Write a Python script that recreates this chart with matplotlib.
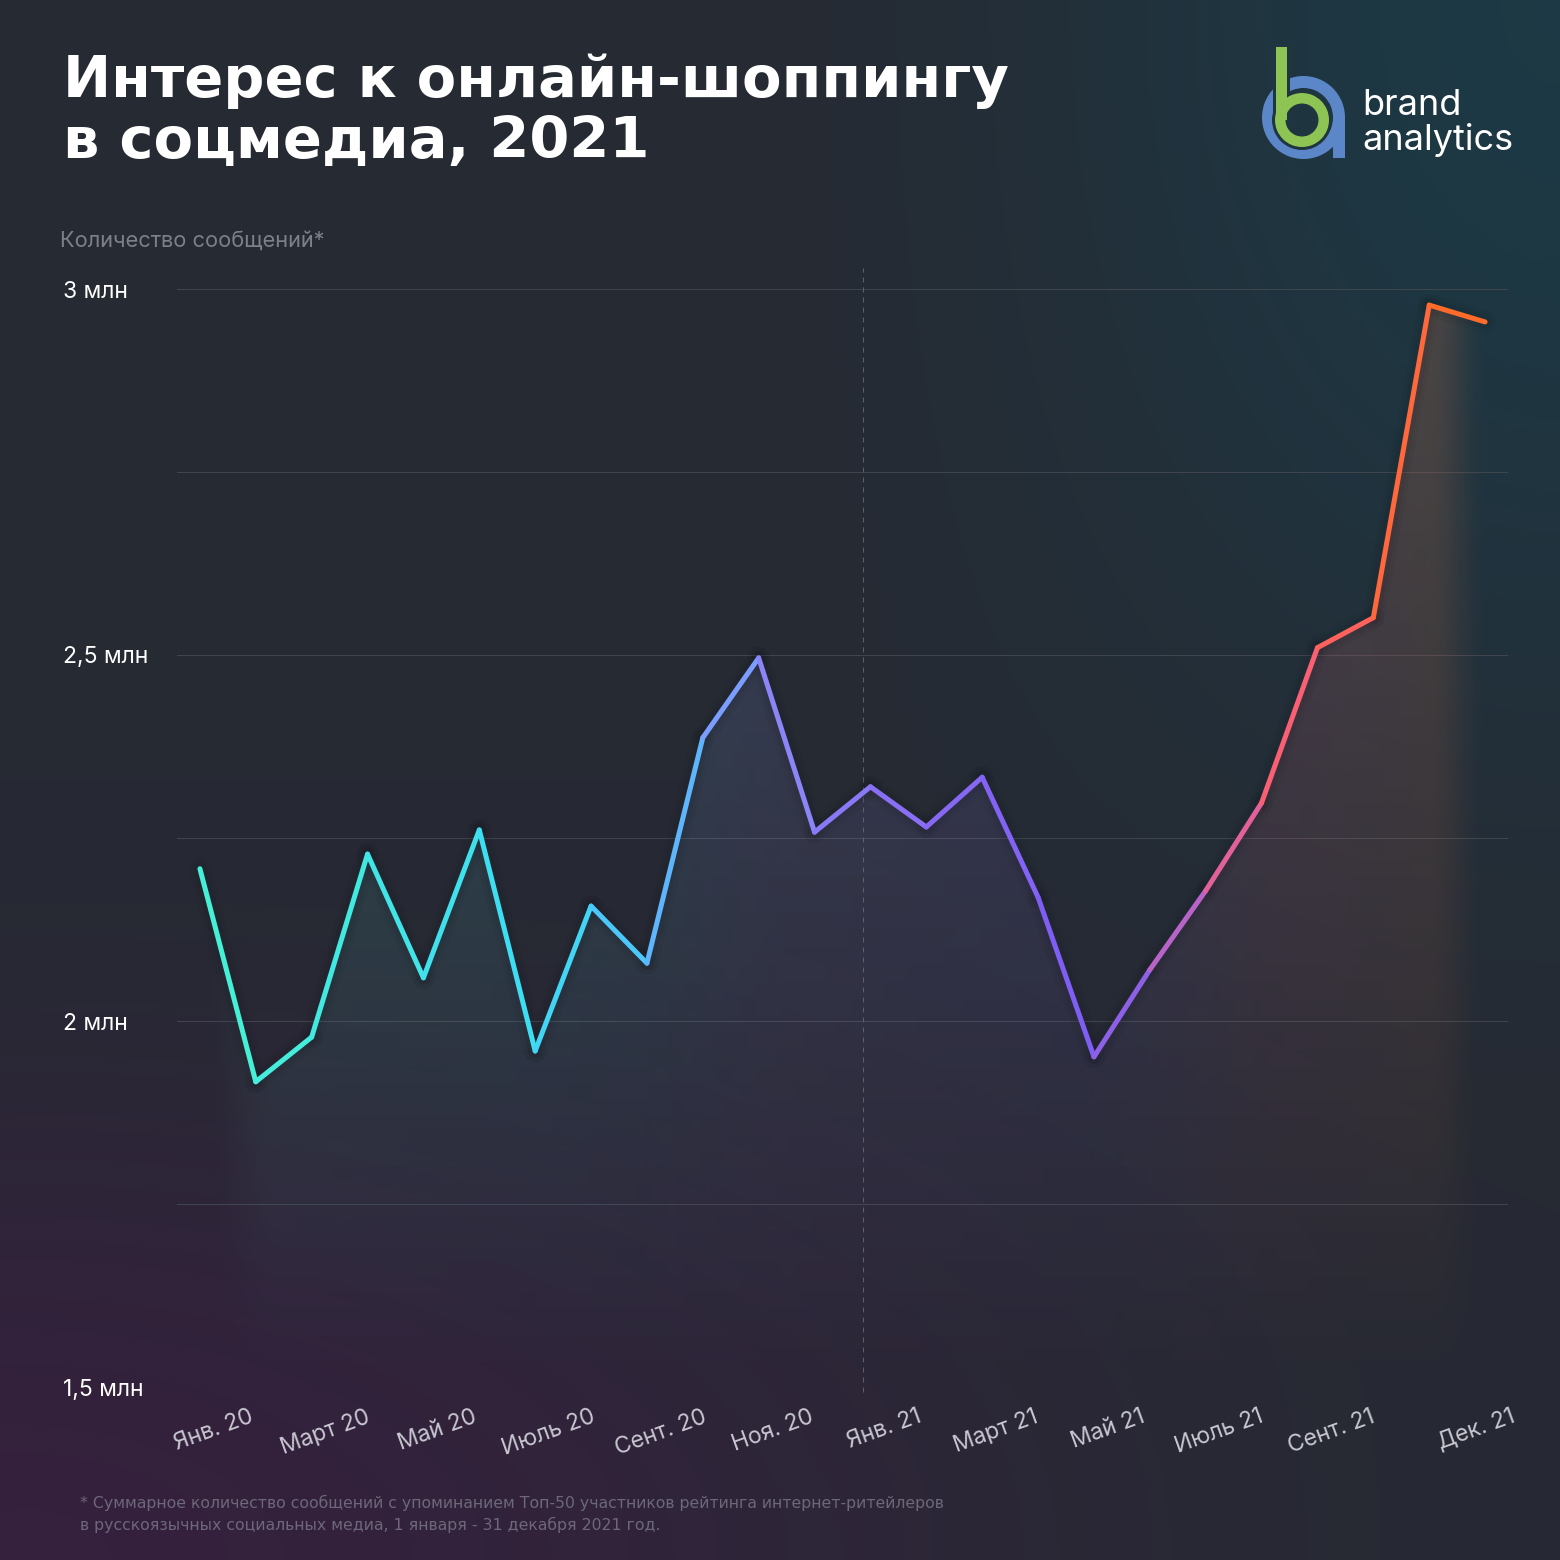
import numpy as np
import matplotlib
matplotlib.use("Agg")
import matplotlib.pyplot as plt
from matplotlib.colors import LinearSegmentedColormap
from matplotlib.collections import LineCollection
from matplotlib.patches import Polygon, Wedge, Rectangle
from matplotlib.transforms import ScaledTranslation

# ---------------- data ----------------
months = ["Янв. 20", "Фев. 20", "Март 20", "Апр. 20", "Май 20", "Июнь 20",
          "Июль 20", "Авг. 20", "Сент. 20", "Окт. 20", "Ноя. 20", "Дек. 20",
          "Янв. 21", "Фев. 21", "Март 21", "Апр. 21", "Май 21", "Июнь 21",
          "Июль 21", "Авг. 21", "Сент. 21", "Окт. 21", "Ноя. 21", "Дек. 21"]
values = [2.208, 1.917, 1.978, 2.228, 2.059, 2.261, 1.959, 2.157, 2.079, 2.387,
          2.496, 2.258, 2.320, 2.265, 2.333, 2.169, 1.951, 2.070, 2.178, 2.298,
          2.510, 2.551, 2.978, 2.955]  # млн сообщений
tick_idx = [0, 2, 4, 6, 8, 10, 12, 14, 16, 18, 20, 23]
tick_labels = ["Янв. 20", "Март 20", "Май 20", "Июль 20", "Сент. 20", "Ноя. 20",
               "Янв. 21", "Март 21", "Май 21", "Июль 21", "Сент. 21", "Дек. 21"]
y_ticks = [1.5, 2.0, 2.5, 3.0]
y_labels = ["1,5 млн", "2 млн", "2,5 млн", "3 млн"]
y_minor = [1.75, 2.25, 2.75]
year_divider = 11.87

title_lines = ["Интерес к онлайн-шоппингу", "в соцмедиа, 2021"]
y_title = "Количество сообщений*"
footnote = ["* Суммарное количество сообщений с упоминанием Топ-50 участников рейтинга интернет-ритейлеров",
            "в русскоязычных социальных медиа, 1 января - 31 декабря 2021 год."]

# ---------------- styles ----------------
W = H = 1560
DPI = 100
PX = 72.0 / DPI  # points per pixel

line_anchor_pos = [0, 6, 8, 9.5, 10.5, 13, 16, 17, 18, 19, 20, 21, 22, 23]
line_anchor_col = ["#46f2d4", "#3ddcf5", "#50c0fa", "#7c9cff", "#8c84f7", "#886af4",
                   "#7c5cf5", "#a064dc", "#d062b4", "#f4607e", "#ff5f6a", "#ff6452",
                   "#ff6a2a", "#ff6b26"]
cmap = LinearSegmentedColormap.from_list(
    "line", list(zip(np.array(line_anchor_pos) / 23.0, line_anchor_col)))

fig = plt.figure(figsize=(W / DPI, H / DPI), dpi=DPI)

# ---------------- background ----------------
bg = fig.add_axes([0, 0, 1, 1], zorder=0)
bg.set_xlim(0, W)
bg.set_ylim(H, 0)
bg.axis("off")


def smooth(t):
    t = np.clip(t, 0, 1)
    return t * t * (3 - 2 * t)


n = 780
u = np.linspace(0, 1, n)[None, :]
v = np.linspace(0, 1, n)[:, None]
base = np.array([38, 42, 51]) / 255.0
teal = np.array([28, 58, 70]) / 255.0
purp = np.array([54, 32, 62]) / 255.0
w_t = smooth((u - 0.45) / 0.55) * smooth(1 - (v - 0.0) / 0.8) * 0.95
w_p = smooth((v - 0.5) / 0.5) * smooth(1 - u / 1.05) * 0.95
img_bg = (base[None, None, :] * (1 - w_t[..., None] - w_p[..., None])
          + teal[None, None, :] * w_t[..., None] + purp[None, None, :] * w_p[..., None])
img_bg = np.clip(img_bg, 0, 1)
bg.imshow(img_bg, extent=(0, W, H, 0), aspect="auto", interpolation="bilinear", zorder=0)


def bg_color_at(px, py):
    i = int(py / H * (n - 1))
    j = int(px / W * (n - 1))
    return tuple(img_bg[i, j])


renderer = fig.canvas.get_renderer()


def fit_text(t, target_w):
    w = t.get_window_extent(renderer=renderer).width
    t.set_fontsize(t.get_fontsize() * target_w / w)


# title
t1 = bg.text(63, 97, title_lines[0], color="white", fontsize=44, fontweight="bold",
             family="DejaVu Sans", va="baseline", ha="left", zorder=5)
fit_text(t1, 944)
t2 = bg.text(63, 158, title_lines[1], color="white", fontsize=t1.get_fontsize(),
             fontweight="bold", family="DejaVu Sans", va="baseline", ha="left", zorder=5)

# logo
blue = "#5b86c8"
green = "#8dc453"
gap = bg_color_at(1300, 110)
bg.add_patch(Wedge((1303.5, 117.5), 41.5, 0, 360, width=12, facecolor=blue, edgecolor="none", zorder=3))
bg.add_patch(Rectangle((1333, 117.5), 12, 40.5, facecolor=blue, edgecolor="none", zorder=3))
bg.add_patch(Rectangle((1273, 44), 17, 79, facecolor=gap, edgecolor="none", zorder=4))
bg.add_patch(Wedge((1302, 120), 30, 0, 360, width=17, facecolor=gap, edgecolor="none", zorder=4))
bg.add_patch(Rectangle((1276, 47), 11, 73, facecolor=green, edgecolor="none", zorder=5))
bg.add_patch(Wedge((1302, 120), 27, 0, 360, width=10.5, facecolor=green, edgecolor="none", zorder=5))
bg.text(1362, 115, "brand", color="white", fontsize=26, family="Inter", va="baseline", ha="left", zorder=5)
bg.text(1362, 150, "analytics", color="white", fontsize=26, family="Inter", va="baseline", ha="left", zorder=5)

# y-axis title
yt = bg.text(60, 247, y_title, color="#7d8088", fontsize=15, family="Inter", va="baseline",
             ha="left", zorder=5)
fit_text(yt, 265)

# footnote
f1 = bg.text(80, 1508, footnote[0], color="#6c6879", fontsize=11.5, family="DejaVu Sans",
             va="baseline", ha="left", zorder=5)
fit_text(f1, 873)
bg.text(80, 1530, footnote[1], color="#6c6879", fontsize=f1.get_fontsize(), family="DejaVu Sans",
        va="baseline", ha="left", zorder=5)

# ---------------- chart ----------------
ax_l, ax_r, ax_t, ax_b = 177, 1508, 268, 1387
ax = fig.add_axes([ax_l / W, 1 - ax_b / H, (ax_r - ax_l) / W, (ax_b - ax_t) / H], zorder=2)
ax.patch.set_alpha(0)
x0, x1 = -0.41, 23.41
y0, y1 = 1.5, 3.0 + 21 / 732.0

x = np.arange(len(values))
vals = np.array(values)

# fill under the line (gradient image clipped to the area under the line)
xs = np.linspace(x0, x1, 700)
ys = np.linspace(y0, y1, 500)
col = cmap(np.clip(xs / 23.0, 0, 1))[:, :3]
col = 0.65 * col + 0.35 * np.array([0.55, 0.55, 0.6])[None, :]
fill = np.zeros((len(ys), len(xs), 4))
fill[..., :3] = col[None, :, :]
vert = np.clip((ys - 1.5) / 1.5, 0, 1) ** 0.9
hf = smooth(xs / 1.4) * smooth((23.1 - xs) / 1.1)
fill[..., 3] = 0.25 * vert[:, None] * hf[None, :]
im = ax.imshow(fill, extent=(x0, x1, y0, y1), origin="lower", aspect="auto",
               interpolation="bilinear", zorder=1)
poly = Polygon(np.column_stack([np.r_[x[0], x, x[-1]], np.r_[y0, vals, y0]]),
               closed=True, transform=ax.transData, facecolor="none", edgecolor="none")
ax.add_patch(poly)
im.set_clip_path(poly)

# line (segment colours from gradient)
pts = np.column_stack([x, vals])
segs = np.stack([pts[:-1], pts[1:]], axis=1)
mid = (x[:-1] + x[1:]) / 2.0 / 23.0
for lw_px, a in [(22, 0.035), (14, 0.045)]:
    ax.add_collection(LineCollection(segs, colors="black", linewidths=lw_px * PX, alpha=a,
                                     capstyle="round", joinstyle="round", zorder=2))
lc = LineCollection(segs, colors=cmap(mid), linewidths=5 * PX,
                    capstyle="round", joinstyle="round", zorder=3)
ax.add_collection(lc)

ax.set_xlim(x0, x1)
ax.set_ylim(y0, y1)

# grid
ax.set_yticks(y_ticks, y_labels)
ax.set_yticks(y_minor, minor=True)
ax.yaxis.grid(True, which="both", color="#40444d", linewidth=1.0 * PX, zorder=0)
ax.set_axisbelow(True)
ax.tick_params(axis="y", which="both", length=0, pad=(ax_l - 63) * PX,
               labelsize=16.5, labelcolor="white")
for lbl in ax.get_yticklabels():
    lbl.set_ha("left")
    lbl.set_family("Inter")

ax.set_xticks(tick_idx, tick_labels)
ax.tick_params(axis="x", length=0, pad=19 * PX, labelsize=16.5, labelcolor="#c8c7d1")
xt = ax.get_xticklabels()
for i, lbl in enumerate(xt):
    lbl.set_rotation(20)
    lbl.set_ha("center")
    lbl.set_family("Inter")
    dx = -9 if i == len(xt) - 1 else 14
    lbl.set_transform(lbl.get_transform() + ScaledTranslation(dx / DPI, 0, fig.dpi_scale_trans))

for s in ax.spines.values():
    s.set_visible(False)

ax.axvline(year_divider, ymin=-5 / (ax_b - ax_t), ymax=1, color="#5c6069",
           linewidth=1.0 * PX, linestyle=(0, (5, 5)), clip_on=False, zorder=1)

fig.savefig("out.png", dpi=DPI)
